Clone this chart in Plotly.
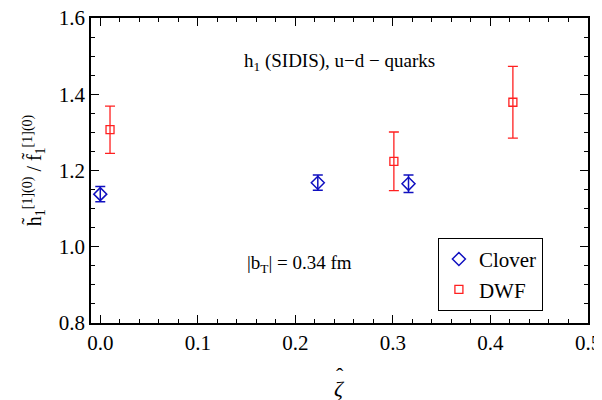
import plotly.graph_objects as go

clover_x = [0.0, 0.223, 0.316]
clover_y = [1.138, 1.168, 1.165]
clover_err = [0.02, 0.02, 0.023]

dwf_x = [0.01, 0.301, 0.423]
dwf_y = [1.307, 1.224, 1.379]
dwf_err = [0.062, 0.077, 0.094]

x_ticks = [0.0, 0.1, 0.2, 0.3, 0.4, 0.5]
y_ticks = [0.8, 1.0, 1.2, 1.4, 1.6]

FONT = "Liberation Serif"
BLUE = "#1010c0"
RED = "#ff2020"

fig = go.Figure()
fig.add_trace(go.Scatter(
    x=clover_x, y=clover_y, mode="markers", name="Clover",
    marker=dict(symbol="diamond-open", size=10, color=BLUE, line=dict(width=1.5, color=BLUE)),
    error_y=dict(type="data", array=clover_err, color=BLUE, thickness=1.5, width=5),
))
fig.add_trace(go.Scatter(
    x=dwf_x, y=dwf_y, mode="markers", name="DWF",
    marker=dict(symbol="square-open", size=8, color=RED, line=dict(width=1.3, color=RED)),
    error_y=dict(type="data", array=dwf_err, color=RED, thickness=1.3, width=5),
))

axis_common = dict(
    showline=True, linecolor="black", linewidth=1.5, mirror="allticks",
    ticks="inside", ticklen=8, tickwidth=1, tickcolor="black",
    showgrid=False, zeroline=False, automargin=False,
    ticklabeloverflow="allow",
    tickfont=dict(family=FONT, size=21, color="black"),
)

fig.update_xaxes(
    range=[-0.0095, 0.5], tickvals=x_ticks, ticktext=[f"{v:.1f}" for v in x_ticks],
    minor=dict(ticks="inside", ticklen=4, dtick=0.02, tick0=0, tickcolor="black", showgrid=False),
    **axis_common,
)
fig.update_yaxes(
    range=[0.8, 1.6], tickvals=y_ticks, ticktext=[f"{v:.1f}" for v in y_ticks],
    minor=dict(ticks="inside", ticklen=4, dtick=0.05, tick0=0.8, tickcolor="black", showgrid=False),
    title=dict(text="h̃<sub>1</sub><sup>[1](0)</sup> / f̃<sub>1</sub><sup>[1](0)</sup>",
               font=dict(family=FONT, size=20, color="black"), standoff=12),
    **axis_common,
)

# x-axis title: zeta with a hat
fig.add_annotation(x=0.499, y=-0.215, xref="paper", yref="paper", yanchor="middle",
                   text="<i>ζ</i>", showarrow=False,
                   font=dict(family=FONT, size=22, color="black"))
fig.add_annotation(x=0.501, y=-0.172, xref="paper", yref="paper", yanchor="middle",
                   text="ˆ", showarrow=False,
                   font=dict(family=FONT, size=22, color="black"))

fig.add_annotation(x=0.5, y=0.903, xref="paper", yref="paper",
                   text="h<sub>1</sub> (SIDIS), u−d − quarks", showarrow=False,
                   font=dict(family=FONT, size=19, color="black"))
fig.add_annotation(x=0.42, y=0.148, xref="paper", yref="paper",
                   text="|b<sub>T</sub>| = 0.34 fm", showarrow=False,
                   font=dict(family=FONT, size=19, color="black"))

# page body has an 8px margin: shrink the figure so it fits the 602x400 window
fig.update_layout(
    width=594, height=392,
    margin=dict(l=83, r=14, t=10, b=77),
    paper_bgcolor="white", plot_bgcolor="white",
    showlegend=True,
    legend=dict(x=0.698, y=0.279, xanchor="left", yanchor="top",
                bordercolor="black", borderwidth=1, bgcolor="white",
                font=dict(family=FONT, size=21, color="black"),
                itemwidth=30, tracegroupgap=0),
)

fig.write_html("out.html")
